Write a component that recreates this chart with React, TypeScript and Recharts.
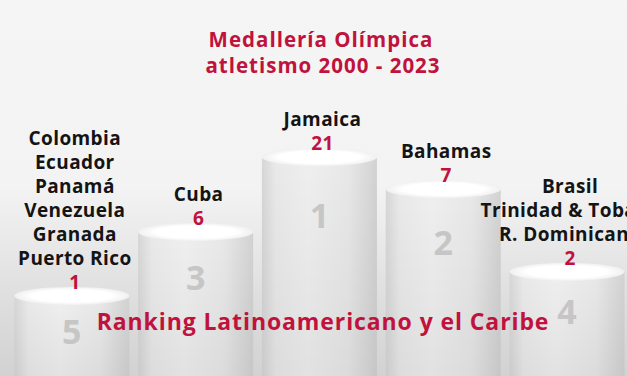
import React from 'react';
import { BarChart, Bar, XAxis, YAxis, LabelList } from 'recharts';

// podium order, left to right
const ranks = ['5', '3', '1', '2', '4'];
const countries = [
    ['Colombia', 'Ecuador', 'Panamá', 'Venezuela', 'Granada', 'Puerto Rico'],
    ['Cuba'],
    ['Jamaica'],
    ['Bahamas'],
    ['Brasil', 'Trinidad & Tobago', 'R. Dominicana'],
];
const medals = [1, 6, 21, 7, 2];
// height of each podium step (% of chart height)
const podiumHeight = [21.3, 38.3, 58.2, 49.7, 27.7];

const data = ranks.map((rank, i) => ({
    rank,
    names: countries[i],
    medals: medals[i],
    height: podiumHeight[i],
}));

const RED = '#c0123c';
const FONT = '"Open Sans", sans-serif';

function Cylinder(props: any) {
    const { x, y, width, height, index, payload } = props;
    const cx = x + width / 2;
    const id = `cyl${index}`;
    return (
        <g>
            <defs>
                <linearGradient id={`${id}b`} x1="0" y1="0" x2="1" y2="0">
                    <stop offset="0%" stopColor="#d6d6d6" />
                    <stop offset="12%" stopColor="#e9e9e9" />
                    <stop offset="40%" stopColor="#efefef" />
                    <stop offset="75%" stopColor="#e8e8e8" />
                    <stop offset="100%" stopColor="#d2d2d2" />
                </linearGradient>
                <linearGradient id={`${id}s`} x1="0" y1="0" x2="0" y2="1">
                    <stop offset="0%" stopColor="#000" stopOpacity={0} />
                    <stop offset="100%" stopColor="#000" stopOpacity={0.06} />
                </linearGradient>
                <radialGradient id={`${id}t`} cx="50%" cy="50%" r="50%">
                    <stop offset="70%" stopColor="#ffffff" />
                    <stop offset="100%" stopColor="#f0f0f0" />
                </radialGradient>
            </defs>
            <rect x={x} y={y} width={width} height={height + 10} fill={`url(#${id}b)`} />
            <rect x={x} y={y} width={width} height={height + 10} fill={`url(#${id}s)`} />
            <ellipse cx={cx} cy={y} rx={width / 2} ry={9} fill={`url(#${id}t)`} />
            <text
                x={cx}
                y={y + 22 + 0.17 * height + 12}
                textAnchor="middle"
                fontFamily={FONT}
                fontWeight={700}
                fontSize={34}
                fill="#c6c6c6"
            >
                {payload.rank}
            </text>
        </g>
    );
}

function PodiumLabel(props: any) {
    const { x, y, width, index } = props;
    const cx = x + width / 2 + 3;
    const names = countries[index];
    const valueY = y - 7;
    return (
        <g fontFamily={FONT} fontWeight={700} fontSize={19} letterSpacing={0.4} textAnchor="middle">
            {names.map((n, i) => (
                <text key={n} x={cx} y={valueY - 24 * (names.length - i)} fill="#141414">
                    {n}
                </text>
            ))}
            <text x={cx} y={valueY} fill={RED}>
                {medals[index]}
            </text>
        </g>
    );
}

export default function App() {
    return (
        <div
            style={{
                position: 'absolute',
                left: 0,
                top: 0,
                width: 627,
                height: 376,
                overflow: 'hidden',
                background: 'linear-gradient(to bottom, #f5f5f5 0%, #f3f3f3 50%, #dedede 80%, #d2d2d2 100%)',
            }}
        >
            <BarChart
                width={627}
                height={376}
                data={data}
                margin={{ top: 0, right: -2, left: 10, bottom: 0 }}
                barCategoryGap="3.5%"
            >
                <XAxis dataKey="rank" hide />
                <YAxis hide domain={[0, 100]} />
                <Bar dataKey="height" shape={Cylinder} isAnimationActive={false}>
                    <LabelList dataKey="medals" content={PodiumLabel} />
                </Bar>
            </BarChart>
            <svg
                width={627}
                height={376}
                style={{ position: 'absolute', left: 0, top: 0, pointerEvents: 'none' }}
            >
                <g fontFamily={FONT} fontWeight={700} fill={RED} textAnchor="middle">
                    <text x={321} y={47} fontSize={20.5} letterSpacing={1}>Medallería Olímpica</text>
                    <text x={323} y={73} fontSize={20.5} letterSpacing={1}>atletismo 2000 - 2023</text>
                    <text x={323} y={330} fontSize={23} letterSpacing={0.9}>Ranking Latinoamericano y el Caribe</text>
                </g>
            </svg>
        </div>
    );
}
